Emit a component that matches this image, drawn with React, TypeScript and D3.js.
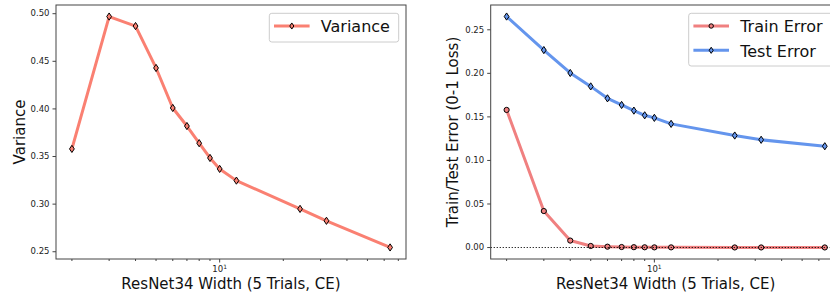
import React from 'react';
import * as d3 from 'd3';

// network widths (x) shared by both panels
const widths = [2, 3, 4, 5, 6, 7, 8, 9, 10, 12, 24, 32, 64];
const variance = [0.358, 0.497, 0.487, 0.443, 0.401, 0.382, 0.364, 0.3485, 0.337, 0.3247, 0.295, 0.2825, 0.2545];
const trainError = [0.158, 0.0419, 0.008, 0.0018, 0.001, 0.0006, 0.0004, 0.0003, 0.0002, 0.0002, 0.0001, 0.0001, 0.0001];
const testError = [0.2652, 0.2267, 0.2004, 0.185, 0.1713, 0.1637, 0.1572, 0.1518, 0.1489, 0.142, 0.1286, 0.1237, 0.1163];

const leftTicks = [0.25, 0.3, 0.35, 0.4, 0.45, 0.5];
const rightTicks = [0, 0.05, 0.1, 0.15, 0.2, 0.25];
const minorX = [2, 3, 4, 5, 6, 7, 8, 9, 20, 30, 40, 50, 60, 70];
const xLabel = 'ResNet34 Width (5 Trials, CE)';

const FONT = 'DejaVu Sans, sans-serif';
const SPINE = '#444';
const W = 350;
const H = 254;
const TOP = 5;

const padLog = (lo: number, hi: number) => {
  const m = (Math.log10(hi) - Math.log10(lo)) * 0.05;
  return [lo / Math.pow(10, m), hi * Math.pow(10, m)];
};
const padLin = (lo: number, hi: number) => {
  const m = (hi - lo) * 0.05;
  return [lo - m, hi + m];
};

type Series = { values: number[]; color: string; marker: 'd' | 'o'; label: string };

const Marker = ({ x, y, color, kind, s = 1 }: { x: number; y: number; color: string; kind: 'd' | 'o'; s?: number }) =>
  kind === 'd' ? (
    <path
      d={`M0,${-3.6 * s}L${2.4 * s},0L0,${3.6 * s}L${-2.4 * s},0Z`}
      transform={`translate(${x},${y})`}
      fill={color}
      stroke="#000"
      strokeWidth={1}
    />
  ) : (
    <circle cx={x} cy={y} r={2.6 * s} fill={color} stroke="#000" strokeWidth={1} />
  );

const Panel = ({
  left,
  series,
  yTicks,
  yDomain,
  yLabel,
  yLabelX,
  legendX,
  legendW,
  zeroLine,
}: {
  left: number;
  series: Series[];
  yTicks: number[];
  yDomain: number[];
  yLabel: string;
  yLabelX: number;
  legendX: number;
  legendW: number;
  zeroLine?: boolean;
}) => {
  const x = d3.scaleLog().domain(padLog(d3.min(widths)!, d3.max(widths)!)).range([0, W]);
  const y = d3.scaleLinear().domain(yDomain).range([H, 0]);
  const line = d3
    .line<number>()
    .x((_, i) => x(widths[i]))
    .y((d) => y(d));
  const fmt = d3.format('.2f');

  return (
    <g transform={`translate(${left},${TOP})`}>
      {series.map((s) => (
        <g key={s.label}>
          <path d={line(s.values)!} fill="none" stroke={s.color} strokeWidth={3} strokeLinejoin="round" />
          {s.values.map((v, i) => (
            <Marker key={i} x={x(widths[i])} y={y(v)} color={s.color} kind={s.marker} />
          ))}
        </g>
      ))}
      {zeroLine && (
        <line x1={0} x2={W} y1={y(0)} y2={y(0)} stroke="#000" strokeWidth={1.1} strokeDasharray="1.1,1.9" />
      )}
      <rect x={0} y={0} width={W} height={H} fill="none" stroke={SPINE} strokeWidth={1} />
      {yTicks.map((t) => (
        <g key={t} transform={`translate(0,${y(t)})`}>
          <line x1={-3.5} x2={0} stroke={SPINE} />
          <text x={-6.5} dy="0.32em" textAnchor="end" fontSize={8.5} fill="#222">
            {fmt(t)}
          </text>
        </g>
      ))}
      {minorX.map((t) => (
        <line key={t} x1={x(t)} x2={x(t)} y1={H} y2={H + 2} stroke={SPINE} />
      ))}
      <line x1={x(10)} x2={x(10)} y1={H} y2={H + 3.5} stroke={SPINE} />
      <text x={x(10)} y={H + 13} textAnchor="middle" fontSize={8.5} fill="#222">
        10
        <tspan dy={-3.5} fontSize={6}>
          1
        </tspan>
      </text>
      <text x={W / 2} y={284} textAnchor="middle" fontSize={15} fill="#111">
        {xLabel}
      </text>
      <text transform={`translate(${yLabelX},${H / 2}) rotate(-90)`} textAnchor="middle" fontSize={15} fill="#111">
        {yLabel}
      </text>
      <g transform={`translate(${legendX},8.3)`}>
        <rect
          x={0}
          y={0}
          width={legendW}
          height={series.length * 24 + 4.7}
          rx={2.5}
          fill="#fff"
          fillOpacity={0.8}
          stroke="#ccc"
          strokeWidth={1}
        />
        {series.map((s, i) => (
          <g key={s.label} transform={`translate(0,${12.7 + i * 24.3})`}>
            <line x1={4.7} x2={40.3} stroke={s.color} strokeWidth={3} />
            <Marker x={22.5} y={0} color={s.color} kind={s.marker} s={0.85} />
            <text x={51.5} y={6.3} fontSize={16} fill="#111">
              {s.label}
            </text>
          </g>
        ))}
      </g>
    </g>
  );
};

export default function App() {
  const allErr = trainError.concat(testError);
  return (
    <svg
      width={830}
      height={300}
      style={{ position: 'absolute', left: 0, top: 0, fontFamily: FONT, background: '#fff' }}
    >
      <Panel
        left={56}
        series={[{ values: variance, color: '#FA8072', marker: 'd', label: 'Variance' }]}
        yTicks={leftTicks}
        yDomain={padLin(d3.min(variance)!, d3.max(variance)!)}
        yLabel="Variance"
        yLabelX={-31}
        legendX={213.3}
        legendW={129.4}
      />
      <Panel
        left={490.7}
        series={[
          { values: trainError, color: '#F08080', marker: 'o', label: 'Train Error' },
          { values: testError, color: '#6495ED', marker: 'd', label: 'Test Error' },
        ]}
        yTicks={rightTicks}
        yDomain={padLin(d3.min(allErr)!, d3.max(allErr)!)}
        yLabel="Train/Test Error (0-1 Loss)"
        yLabelX={-33}
        legendX={198}
        legendW={145}
        zeroLine
      />
    </svg>
  );
}
